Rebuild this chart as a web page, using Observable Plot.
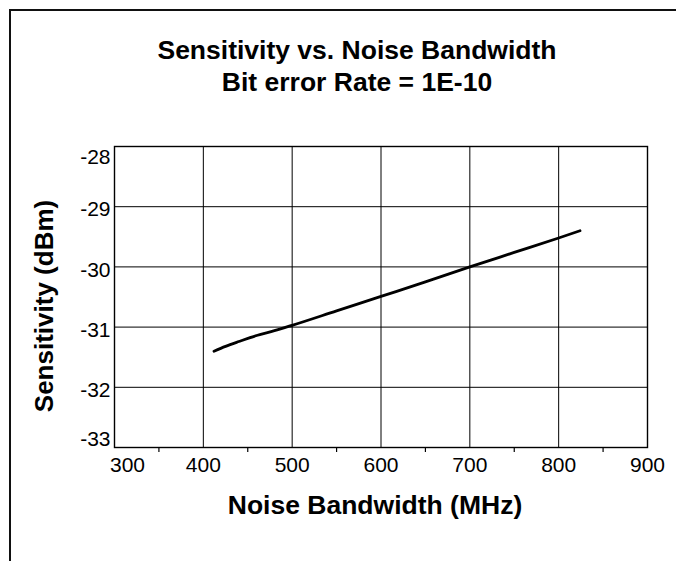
<!DOCTYPE html>
<html>
<head>
<meta charset="utf-8">
<script src="https://cdn.jsdelivr.net/npm/d3@7"></script>
<script src="https://cdn.jsdelivr.net/npm/@observablehq/plot@0.6"></script>
<style>
  html, body { margin: 0; padding: 0; background: #fff; }
  #wrap { position: relative; width: 676px; height: 561px; overflow: hidden; font-family: "Liberation Sans", Arial, Helvetica, sans-serif; }
  #border { position: absolute; left: 9px; top: 9px; width: 680px; height: 600px; border-top: 2px solid #111; border-left: 2px solid #111; }
  #title { position: absolute; left: 157px; width: 400px; top: 34px; text-align: center; font-weight: bold; font-size: 26.5px; line-height: 32px; color: #000; white-space: nowrap; }
  #chart { position: absolute; left: 0; top: 0; }
</style>
</head>
<body>
<div id="wrap">
  <div id="border"></div>
  <div id="chart"></div>
  <div id="title">Sensitivity vs. Noise Bandwidth<br>Bit error Rate = 1E-10</div>
</div>
<script>
// Data
const bandwidth = [412, 425, 440, 460, 480, 500, 550, 600, 650, 700, 750, 800, 824];
const sensitivity = [-31.40, -31.32, -31.24, -31.14, -31.06, -30.97, -30.73, -30.49, -30.25, -30.00, -29.76, -29.52, -29.40];

const xTicks = [300, 400, 500, 600, 700, 800, 900];
const xMinorTicks = [350, 450, 550, 650, 750, 850];
const yTicks = [-28, -29, -30, -31, -32, -33];
const xGrid = [400, 500, 600, 700, 800];
const yGrid = [-29, -30, -31, -32];

const titleX = "Noise Bandwidth (MHz)";
const titleY = "Sensitivity (dBm)";

const rows = bandwidth.map((b, i) => ({bandwidth: b, sensitivity: sensitivity[i]}));

const font = "Liberation Sans, Arial, Helvetica, sans-serif";
const fmt = d => String(d);

const chart = Plot.plot({
  width: 676,
  height: 561,
  marginLeft: 114,
  marginRight: 29,
  marginTop: 146,
  marginBottom: 114,
  style: {fontFamily: font, fontSize: "21px", color: "#000", background: "transparent"},
  x: {domain: [300, 900]},
  y: {domain: [-33, -28]},
  marks: [
    Plot.gridX(xGrid, {stroke: "#000", strokeOpacity: 1, strokeWidth: 1}),
    Plot.gridY(yGrid, {stroke: "#000", strokeOpacity: 1, strokeWidth: 1}),
    Plot.frame({stroke: "#000", strokeWidth: 1.4}),
    // x axis: major labels
    Plot.axisX(xTicks.slice(1), {tickSize: 0, tickPadding: 10, fontSize: 21, tickFormat: fmt, label: null}),
    Plot.axisX([xTicks[0]], {tickSize: 0, tickPadding: 10, fontSize: 21, tickFormat: fmt, dx: 13, label: null}),
    // x axis: minor outward ticks
    Plot.axisX(xMinorTicks, {tickSize: 5, tickFormat: () => "", label: null, strokeWidth: 1.2}),
    // y axis labels
    Plot.axisY(yTicks.slice(1, 5), {tickSize: 0, tickPadding: 4, fontSize: 21, tickFormat: fmt, dy: 3, label: null}),
    Plot.axisY([yTicks[0]], {tickSize: 0, tickPadding: 4, fontSize: 21, tickFormat: fmt, dy: 11, label: null}),
    Plot.axisY([yTicks[5]], {tickSize: 0, tickPadding: 4, fontSize: 21, tickFormat: fmt, dy: -8, label: null}),
    // axis titles
    Plot.text([titleX], {frameAnchor: "bottom", text: d => d, dx: -6, dy: 66, lineAnchor: "bottom", textAnchor: "middle", fontSize: 26.5, fontWeight: "bold"}),
    Plot.text([titleY], {frameAnchor: "left", text: d => d, rotate: -90, dx: -70, dy: 9, lineAnchor: "middle", textAnchor: "middle", fontSize: 26, fontWeight: "bold"}),
    Plot.line(rows, {x: "bandwidth", y: "sensitivity", stroke: "#000", strokeWidth: 2.8, curve: "monotone-x"})
  ]
});
document.getElementById("chart").appendChild(chart);
</script>
</body>
</html>
